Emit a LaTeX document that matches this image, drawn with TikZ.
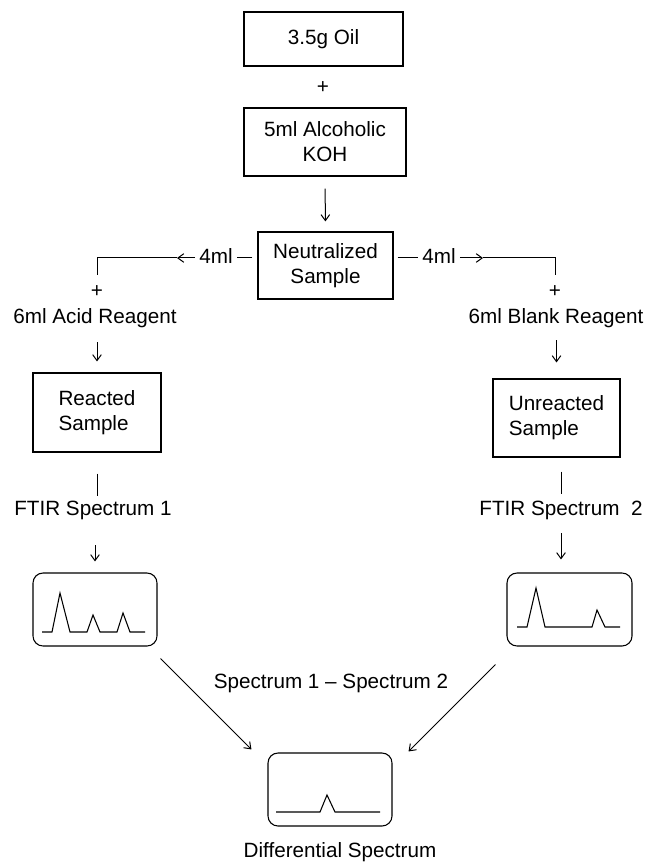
\documentclass[tikz,border=0pt]{standalone}
\usepackage{fontspec}
\setmainfont{Liberation Sans}
\usetikzlibrary{arrows.meta,positioning}

\tikzset{
  stepbox/.style={draw,line width=0.8pt,inner sep=0pt,align=left},
  specbox/.style={draw,line width=0.8pt,rounded corners=7.5pt,
                  minimum width=93pt,minimum height=54.75pt,inner sep=0pt},
  lbl/.style={inner sep=3pt,text height=11.5pt,text depth=3.5pt},
  link/.style={line width=0.75pt},
  arr/.style={line width=0.75pt,-{Straight Barb[length=4.5pt,width=6.5pt]}},
  trace/.style={line width=0.8pt},
}

\begin{document}
\begin{tikzpicture}[x=0.75pt,y=-0.75pt,font=\fontsize{15.5}{18.75}\selectfont]
  \useasboundingbox (0,0) rectangle (649,862);

  % sample preparation
  \node[stepbox,minimum width=119.25pt,minimum height=40.5pt] (oil) at (323.5,39) {3.5g Oil};
  \node[lbl] (plus) at (323,88) {+};
  \node[stepbox,align=center,minimum width=121.5pt,minimum height=51pt] (koh) at (325,142) {5ml Alcoholic\\KOH};
  \node[stepbox,align=center,minimum width=101.25pt,minimum height=50.25pt] (neut) at (325.5,265.5) {Neutralized\\Sample};
  \draw[arr,shorten <=9pt,shorten >=7.5pt] (koh.south) -- (neut.north);

  % split into two portions
  \node[lbl] (lml) at (216,258) {4ml};
  \node[lbl] (rml) at (439,258) {4ml};
  \coordinate (tipL) at (177,258);
  \coordinate (tipR) at (483,258);
  \coordinate (dropL) at (97,275);
  \coordinate (dropR) at (555,275);
  \draw[link,shorten <=3.75pt] (neut.west |- lml) -- (lml.east);
  \draw[arr] (lml.west) -- (tipL);
  \draw[link] (tipL) -| (dropL);
  \draw[link,shorten <=3pt] (neut.east |- rml) -- (rml.west);
  \draw[arr] (rml.east) -- (tipR);
  \draw[link] (tipR) -| (dropR);

  % left branch
  \node[lbl] (plusL) at (97,292) {+};
  \node[lbl] (reagL) at (95,318) {6ml Acid Reagent};
  \node[stepbox,minimum width=96pt,minimum height=59.25pt] (reacted) at (97,412.5) {Reacted\\Sample};
  \node[lbl] (ftirL) at (93,510) {FTIR Spectrum 1};
  \node[specbox] (specL) at (95,609.5) {};
  \draw[arr,shorten <=7.5pt,shorten >=8.25pt] (reacted.north |- reagL.south) -- (reacted.north);
  \draw[link,shorten <=15.75pt] (reacted.south) -- (reacted.south |- ftirL.north);
  \draw[arr,shorten <=15.75pt,shorten >=8.25pt] (specL.north |- ftirL.south) -- (specL.north);
  \draw[trace] (42,632) -- (52,632) -- (60,593) -- (70,632) -- (87,632) -- (93,615)
    -- (100,632) -- (117,632) -- (123,613) -- (130,632) -- (145,632);

  % right branch
  \node[lbl] (plusR) at (555,292) {+};
  \node[lbl] (reagR) at (556,318) {6ml Blank Reagent};
  \node[stepbox,minimum width=95.25pt,minimum height=58.5pt] (unreacted) at (556.5,418) {Unreacted\\Sample};
  \node[lbl] (ftirR) at (561,510) {FTIR Spectrum\ \ 2};
  \node[specbox,minimum width=93.75pt] (specR) at (569.5,609.5) {};
  \draw[arr,shorten <=6pt,shorten >=12pt] (unreacted.north |- reagR.south) -- (unreacted.north);
  \draw[link,shorten <=10.5pt,shorten >=1.5pt] (ftirR.north |- unreacted.south) -- (ftirR.north);
  \draw[arr,shorten <=6.75pt,shorten >=9.75pt] (ftirR.south) -- (ftirR.south |- specR.north);
  \draw[trace] (517,627) -- (527,627) -- (536,588) -- (545,627) -- (592,627) -- (597,610)
    -- (605,627) -- (620,627);

  % difference
  \node[specbox] (diff) at (330,789.5) {};
  \node[lbl] (sub) at (331,683) {Spectrum 1 -- Spectrum 2};
  \node[lbl] (diffname) at (340,852) {Differential Spectrum};
  \draw[arr] ([xshift=2.25pt,yshift=-9pt]specL.south east) -- ([xshift=-12pt,yshift=2.25pt]diff.north west);
  \draw[arr] ([xshift=-8.25pt,yshift=-13.5pt]specR.south west) -- ([xshift=12pt,yshift=0.75pt]diff.north east);
  \draw[trace] (276,812) -- (320,812) -- (327,795) -- (335,812) -- (380,812);
\end{tikzpicture}
\end{document}
